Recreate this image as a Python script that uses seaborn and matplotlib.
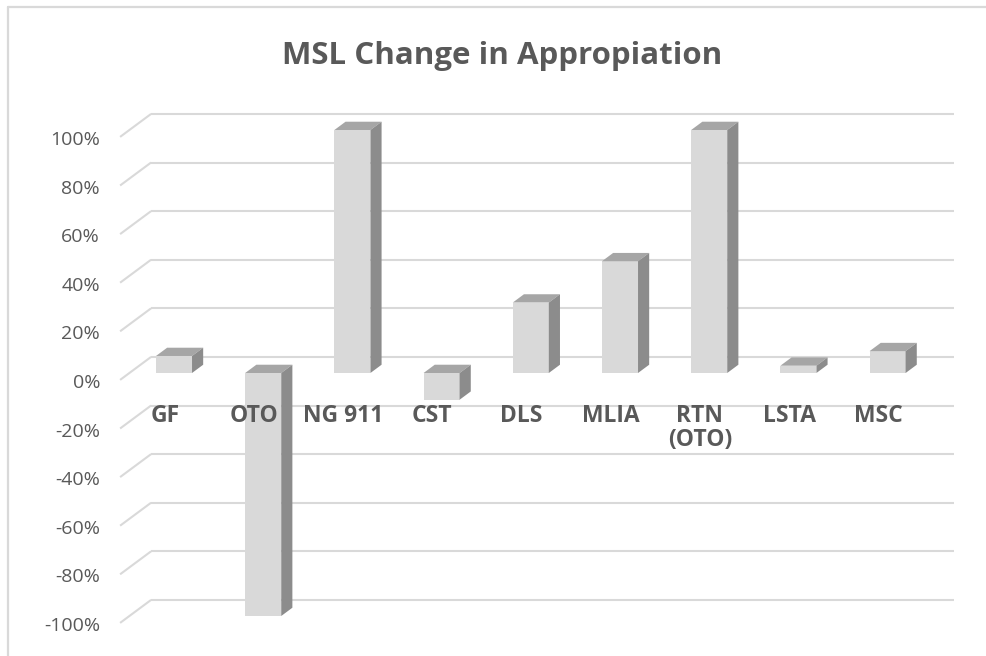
import matplotlib
matplotlib.use("Agg")
import matplotlib.pyplot as plt
from matplotlib.patches import Polygon
from matplotlib.lines import Line2D
import seaborn as sns
import pandas as pd

# ---- data ----
categories = ["GF", "OTO", "NG 911", "CST", "DLS", "MLIA", "RTN\n(OTO)", "LSTA", "MSC"]
values = [0.07, -1.00, 1.00, -0.11, 0.29, 0.46, 1.00, 0.03, 0.09]
tick_values = [1.0, 0.8, 0.6, 0.4, 0.2, 0.0, -0.2, -0.4, -0.6, -0.8, -1.0]
tick_labels = ["100%", "80%", "60%", "40%", "20%", "0%", "-20%", "-40%", "-60%", "-80%", "-100%"]
title = "MSL Change in Appropiation"

# ---- style ----
W, H = 987, 656
TXT = "#595959"
GRID = "#d9d9d9"
FRONT = "#d9d9d9"
TOP = "#a6a6a6"
SIDE = "#8c8c8c"
FONT = "Open Sans"

sns.set_theme(style="white")
plt.rcParams["font.family"] = [FONT, "DejaVu Sans"]

# pixel geometry of the oblique projection
x0_px, step_px = 174.0, 89.2      # category 0 centre, spacing
y0_px, unit_px = 373.0, 243.0     # value 0 and 100% span on the bar front plane
Dx = 31.0 / step_px               # full depth vector, data units
Dy = 23.0 / unit_px
front_frac, back_frac = 0.30, 0.66

fig = plt.figure(figsize=(W / 100, H / 100), dpi=100)
ax = fig.add_axes([0, 0, 1, 1])

df = pd.DataFrame({"cat": categories, "val": values})
sns.barplot(data=df, x="cat", y="val", order=categories, width=0.404,
            color=FRONT, saturation=1, linewidth=0, ax=ax, zorder=3)
ax.set_xlim((0 - x0_px) / step_px, (W - x0_px) / step_px)
ax.set_ylim((y0_px - H) / unit_px, (y0_px - 0) / unit_px)
ax.axis("off")

# walls: back gridlines + side wall diagonals
n = len(categories)
wall_l, wall_r = -0.5, n - 0.5
for t, lab in zip(tick_values, tick_labels):
    yb = t + (1 - front_frac) * Dy
    xb0 = wall_l + (1 - front_frac) * Dx
    xb1 = wall_r + (1 - front_frac) * Dx
    ax.plot([xb0, xb1], [yb, yb], color=GRID, lw=1.5, zorder=1, solid_capstyle="butt")
    xf = wall_l - front_frac * Dx
    yf = t - front_frac * Dy
    ax.plot([xf, xb0], [yf, yb], color=GRID, lw=1.5, zorder=1, solid_capstyle="butt")
    ax.text(xf - 20 / step_px, yf - 8 / unit_px, lab,
            ha="right", va="baseline", fontsize=14, color=TXT, zorder=5)

# 3D faces for each bar
dbx = (back_frac - front_frac) * Dx
dby = (back_frac - front_frac) * Dy
for p in ax.patches[:n]:
    x, w = p.get_x(), p.get_width()
    y, h = p.get_y(), p.get_height()
    lo, hi = min(y, y + h), max(y, y + h)
    top = max(hi, 0.0)
    ax.add_patch(Polygon([[x, top], [x + w, top], [x + w + dbx, top + dby], [x + dbx, top + dby]],
                         closed=True, facecolor=TOP, edgecolor="none", zorder=3))
    ax.add_patch(Polygon([[x + w, lo], [x + w + dbx, lo + dby], [x + w + dbx, hi + dby], [x + w, hi]],
                         closed=True, facecolor=SIDE, edgecolor="none", zorder=3))

# category labels at the front plane
for i, c in enumerate(categories):
    ax.text(i - front_frac * Dx, (y0_px - 404) / unit_px, c, ha="center", va="top",
            fontsize=16.5, fontweight="bold", color=TXT, zorder=6, linespacing=1.0)

# title
fig.text(502 / W, 1 - 64 / H, title, ha="center", va="baseline",
         fontsize=22.5, fontweight="bold", color=TXT)

# chart border (top and left)
fig.add_artist(Line2D([8 / W, 8 / W], [0, 1 - 7 / H], transform=fig.transFigure, color=GRID, lw=1.6))
fig.add_artist(Line2D([8 / W, 1], [1 - 7 / H, 1 - 7 / H], transform=fig.transFigure, color=GRID, lw=1.6))

fig.savefig("out.png", dpi=100, facecolor="white")
